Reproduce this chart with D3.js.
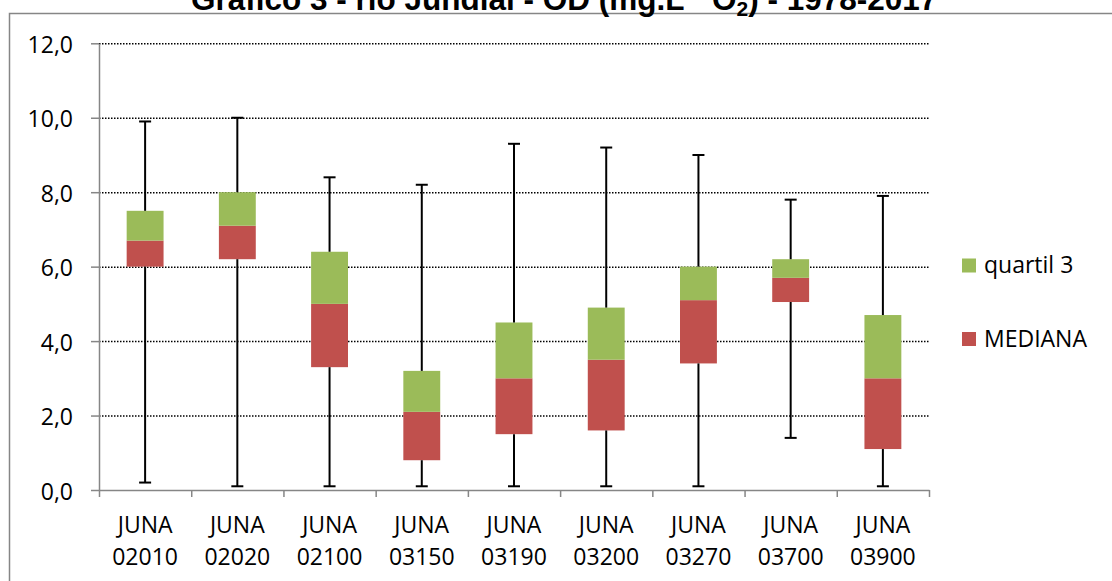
<!DOCTYPE html>
<html>
<head>
<meta charset="utf-8">
<script src="https://cdn.jsdelivr.net/npm/d3@7"></script>
<style>
  html, body { margin: 0; padding: 0; background: #fff; overflow: hidden; }
  svg { display: block; }
</style>
</head>
<body>
<svg id="chart" width="1112" height="581"></svg>
<script>
// ---- data ----
const categories = ["JUNA 02010", "JUNA 02020", "JUNA 02100", "JUNA 03150", "JUNA 03190",
                    "JUNA 03200", "JUNA 03270", "JUNA 03700", "JUNA 03900"];
const minValues    = [0.2, 0.1, 0.1, 0.1, 0.1, 0.1, 0.1, 1.4, 0.1];
const q1Values     = [6.0, 6.2, 3.3, 0.8, 1.5, 1.6, 3.4, 5.05, 1.1];
const medianValues = [6.7, 7.1, 5.0, 2.1, 3.0, 3.5, 5.1, 5.7, 3.0];
const q3Values     = [7.5, 8.0, 6.4, 3.2, 4.5, 4.9, 6.0, 6.2, 4.7];
const maxValues    = [9.9, 10.0, 8.4, 8.2, 9.3, 9.2, 9.0, 7.8, 7.9];
const yTicks = [0, 2, 4, 6, 8, 10, 12];
const seriesNames = ["quartil 3", "MEDIANA"];
const seriesColors = ["#9BBB59", "#C0504D"];

// ---- layout ----
const svg = d3.select("#chart");
const plotLeft = 99, plotRight = 929, plotTop = 43.3, plotBottom = 490;
const axisColor = "#868686";
const font = "'Open Sans', sans-serif";

// outer chart border (extends past the window)
svg.append("rect").attr("x", 9.5).attr("y", 13.5).attr("width", 1300).attr("height", 700)
  .attr("fill", "none").attr("stroke", axisColor).attr("stroke-width", 1.5);

// title (clipped at the top, as in the reference)
const title = svg.append("text").attr("x", 191).attr("y", 10)
  .attr("font-family", "'Liberation Sans', Arial, sans-serif").attr("font-weight", "bold")
  .attr("font-size", 31.5).attr("fill", "#000");
title.append("tspan").text("Gráfico 3 - rio Jundiaí - OD (mg.L");
title.append("tspan").attr("font-size", 21).attr("dy", -11).text("-1");
title.append("tspan").attr("dy", 11).text(" O");
title.append("tspan").attr("font-size", 21).attr("dy", 6).text("2");
title.append("tspan").attr("dy", -6).text(") - 1978-2017");

const y = d3.scaleLinear().domain([0, 12]).range([plotBottom, plotTop]);
const x = d3.scaleBand().domain(categories).range([plotLeft, plotRight]).padding(0);
const xIdx = d3.scaleLinear().domain([0, categories.length]).range([plotLeft, plotRight]);

// gridlines
const grid = svg.append("g").attr("transform", `translate(${plotLeft},0)`)
  .call(d3.axisLeft(y).tickValues(yTicks.filter(d => d > 0)).tickSize(-(plotRight - plotLeft)).tickFormat(""));
grid.select(".domain").remove();
grid.selectAll(".tick line").attr("stroke", "#000").attr("stroke-width", 1.5)
  .attr("stroke-dasharray", "1.5,1.5");

// y axis
const yAxis = svg.append("g").attr("transform", `translate(${plotLeft},0)`)
  .call(d3.axisLeft(y).tickValues(yTicks).tickSize(8).tickSizeOuter(0).tickPadding(18)
    .tickFormat(d => d.toFixed(1).replace(".", ",")));
yAxis.select(".domain").attr("stroke", axisColor).attr("stroke-width", 1.5);
yAxis.selectAll(".tick line").attr("stroke", axisColor).attr("stroke-width", 1.5);
yAxis.selectAll(".tick text").attr("font-family", font).attr("font-size", 23)
  .attr("fill", "#000").attr("dy", "0.4em");

// x axis (ticks at category boundaries)
const xAxis = svg.append("g").attr("transform", `translate(0,${plotBottom})`)
  .call(d3.axisBottom(xIdx).tickValues(d3.range(categories.length + 1)).tickSize(7)
    .tickSizeOuter(0).tickFormat(""));
xAxis.select(".domain").attr("stroke", axisColor).attr("stroke-width", 1.5);
xAxis.selectAll(".tick line").attr("stroke", axisColor).attr("stroke-width", 1.5);

// x labels
const xl = svg.append("g").selectAll("text").data(categories).join("text")
  .attr("x", d => x(d) + x.bandwidth() / 2)
  .attr("text-anchor", "middle").attr("font-family", font).attr("font-size", 23).attr("fill", "#000");
xl.append("tspan").attr("x", d => x(d) + x.bandwidth() / 2).attr("y", 532.7).text(d => d.split(" ")[0]);
xl.append("tspan").attr("x", d => x(d) + x.bandwidth() / 2).attr("y", 565).text(d => d.split(" ")[1]);

// boxes
const boxW = x.bandwidth() * 0.4;
const rows = categories.map((c, i) => ({
  c, min: minValues[i], q1: q1Values[i], med: medianValues[i], q3: q3Values[i], max: maxValues[i]
}));
const g = svg.append("g");
g.selectAll("rect.med").data(rows).join("rect").attr("class", "med")
  .attr("x", d => x(d.c) + (x.bandwidth() - boxW) / 2).attr("width", boxW)
  .attr("y", d => y(d.med)).attr("height", d => y(d.q1) - y(d.med))
  .attr("fill", seriesColors[1]);
g.selectAll("rect.q3").data(rows).join("rect").attr("class", "q3")
  .attr("x", d => x(d.c) + (x.bandwidth() - boxW) / 2).attr("width", boxW)
  .attr("y", d => y(d.q3)).attr("height", d => y(d.med) - y(d.q3))
  .attr("fill", seriesColors[0]);

// whiskers
const capW = 12;
const cx = d => x(d.c) + x.bandwidth() / 2;
const wg = svg.append("g").attr("stroke", "#000").attr("stroke-width", 2);
wg.selectAll("line.up").data(rows).join("line").attr("class", "up")
  .attr("x1", cx).attr("x2", cx).attr("y1", d => y(d.q3)).attr("y2", d => y(d.max));
wg.selectAll("line.down").data(rows).join("line").attr("class", "down")
  .attr("x1", cx).attr("x2", cx).attr("y1", d => y(d.q1)).attr("y2", d => y(d.min));
wg.selectAll("line.capTop").data(rows).join("line").attr("class", "capTop")
  .attr("x1", d => cx(d) - capW / 2).attr("x2", d => cx(d) + capW / 2)
  .attr("y1", d => y(d.max)).attr("y2", d => y(d.max));
wg.selectAll("line.capBot").data(rows).join("line").attr("class", "capBot")
  .attr("x1", d => cx(d) - capW / 2).attr("x2", d => cx(d) + capW / 2)
  .attr("y1", d => y(d.min)).attr("y2", d => y(d.min));

// legend
const legendY = [258.5, 332];
const lg = svg.append("g").selectAll("g").data(seriesNames).join("g")
  .attr("transform", (d, i) => `translate(962,${legendY[i]})`);
lg.append("rect").attr("width", 14).attr("height", 14).attr("fill", (d, i) => seriesColors[i]);
lg.append("text").attr("x", 22).attr("y", 14.5).attr("font-family", font).attr("font-size", 23)
  .attr("fill", "#000").text(d => d);
</script>
</body>
</html>
